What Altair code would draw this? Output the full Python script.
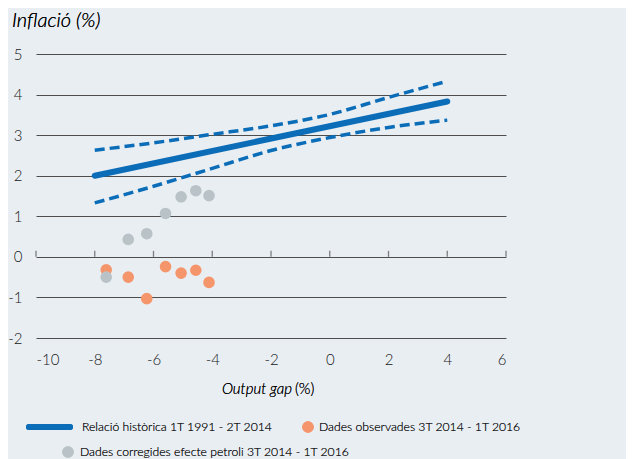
import altair as alt
import pandas as pd

# ---- data ----
gap = [-7.61, -6.86, -6.23, -5.59, -5.06, -4.56, -4.11]
infl_observed = [-0.32, -0.50, -1.03, -0.24, -0.40, -0.33, -0.63]
infl_corrected = [-0.50, 0.43, 0.57, 1.07, 1.48, 1.63, 1.51]

fit_x = [-8, 4]
fit_y = [2.0, 3.83]

band_x = [-8, -6, -4, -2, 0, 2, 4]
band_upper = [2.63, 2.81, 3.02, 3.23, 3.51, 3.93, 4.33]
band_lower = [1.33, 1.74, 2.18, 2.62, 2.94, 3.19, 3.37]

x_ticks = [-10, -8, -6, -4, -2, 0, 2, 4, 6]
y_ticks = [-2, -1, 0, 1, 2, 3, 4, 5]

legend_labels = [
    "Relació històrica 1T 1991 - 2T 2014",
    "Dades observades 3T 2014 - 1T 2016",
    "Dades corregides efecte petroli  3T 2014 - 1T 2016",
]
y_title = "Inflació (%)"
x_title_italic = "Output gap"
x_title_plain = "(%)"

BLUE = "#0B6DB7"
ORANGE = "#F5956B"
GRAY = "#B9C3C7"
TXT = "#161616"
FONT = "Lato"
FW = 300

W, H = 470, 284

obs = pd.DataFrame({"x": gap, "y": infl_observed})
cor = pd.DataFrame({"x": gap, "y": infl_corrected})
fit = pd.DataFrame({"x": fit_x, "y": fit_y})
band = pd.concat([
    pd.DataFrame({"x": band_x, "y": band_upper, "b": "upper"}),
    pd.DataFrame({"x": band_x, "y": band_lower, "b": "lower"}),
])
ticks = pd.DataFrame({"x": x_ticks, "y": [0] * len(x_ticks)})

xs = alt.Scale(domain=[-10, 6], nice=False, zero=False)
ys = alt.Scale(domain=[-2, 5], nice=False, zero=False)

xax = alt.Axis(values=x_ticks, grid=False, domain=False, ticks=False,
               labelExpr="'' + datum.value",
               labelPadding=14, labelFontSize=15, labelColor=TXT,
               labelFont=FONT, labelFontWeight=FW, title=None)
yax = alt.Axis(values=y_ticks, grid=True, gridColor="#4D4D4D", gridWidth=1,
               labelExpr="'' + datum.value",
               domain=False, ticks=False, labelPadding=14, labelFontSize=15,
               labelColor=TXT, labelFont=FONT, labelFontWeight=FW, title=None)

base_axes = alt.Chart(fit).mark_point(opacity=0).encode(
    x=alt.X("x:Q", scale=xs, axis=xax),
    y=alt.Y("y:Q", scale=ys, axis=yax),
)

tick_marks = alt.Chart(ticks).mark_tick(
    orient="vertical", size=6, thickness=1.3, color="#4D4D4D", yOffset=-3
).encode(x=alt.X("x:Q", scale=xs), y=alt.Y("y:Q", scale=ys))

band_lines = alt.Chart(band).mark_line(
    color=BLUE, strokeWidth=3.5, strokeDash=[10, 5], interpolate="monotone"
).encode(x=alt.X("x:Q", scale=xs), y=alt.Y("y:Q", scale=ys), detail="b:N")

fit_line = alt.Chart(fit).mark_line(
    color=BLUE, strokeWidth=6, strokeCap="round"
).encode(x=alt.X("x:Q", scale=xs), y=alt.Y("y:Q", scale=ys))

obs_pts = alt.Chart(obs).mark_circle(size=135, color=ORANGE, opacity=1).encode(
    x=alt.X("x:Q", scale=xs), y=alt.Y("y:Q", scale=ys))
cor_pts = alt.Chart(cor).mark_circle(size=135, color=GRAY, opacity=1).encode(
    x=alt.X("x:Q", scale=xs), y=alt.Y("y:Q", scale=ys))

# titles
ytitle = alt.Chart(fit).mark_text(
    text=y_title, align="left", baseline="middle", fontSize=20,
    fontStyle="italic", font=FONT, fontWeight=FW, color="#000000"
).encode(x=alt.value(-24), y=alt.value(-33))

xtitle1 = alt.Chart(fit).mark_text(
    text=x_title_italic, align="right", baseline="middle", fontSize=15,
    fontStyle="italic", font=FONT, fontWeight=FW, color="#000000"
).encode(x=alt.value(256), y=alt.value(335))
xtitle2 = alt.Chart(fit).mark_text(
    text=x_title_plain, align="left", baseline="middle", fontSize=15,
    font=FONT, fontWeight=FW, color="#000000"
).encode(x=alt.value(259), y=alt.value(335))

# manual legend
LFS = 12.2
leg_line = alt.Chart(fit).mark_rule(color=BLUE, strokeWidth=6, strokeCap="round").encode(
    x=alt.value(-7), x2=alt.value(34), y=alt.value(373))
leg_t1 = alt.Chart(fit).mark_text(
    text=legend_labels[0], align="left", baseline="middle", fontSize=LFS,
    font=FONT, fontWeight=FW, color=TXT).encode(x=alt.value(46), y=alt.value(373))
leg_c2 = alt.Chart(fit).mark_circle(size=135, color=ORANGE, opacity=1).encode(
    x=alt.value(272), y=alt.value(373))
leg_t2 = alt.Chart(fit).mark_text(
    text=legend_labels[1], align="left", baseline="middle", fontSize=LFS,
    font=FONT, fontWeight=FW, color=TXT).encode(x=alt.value(283), y=alt.value(373))
leg_c3 = alt.Chart(fit).mark_circle(size=135, color=GRAY, opacity=1).encode(
    x=alt.value(32), y=alt.value(398))
leg_t3 = alt.Chart(fit).mark_text(
    text=legend_labels[2], align="left", baseline="middle", fontSize=LFS,
    font=FONT, fontWeight=FW, color=TXT).encode(x=alt.value(44), y=alt.value(398))

chart = alt.layer(
    base_axes, tick_marks, band_lines, fit_line, obs_pts, cor_pts,
    ytitle, xtitle1, xtitle2,
    leg_line, leg_t1, leg_c2, leg_t2, leg_c3, leg_t3,
).properties(
    width=W, height=H,
    autosize=alt.AutoSizeParams(type="none"),
    padding={"left": 28, "top": 46, "right": 120, "bottom": 122},
    background="#E9EEF3",
).configure_view(stroke=None)

chart.save("out.html", embed_options={"renderer": "svg", "actions": False})
